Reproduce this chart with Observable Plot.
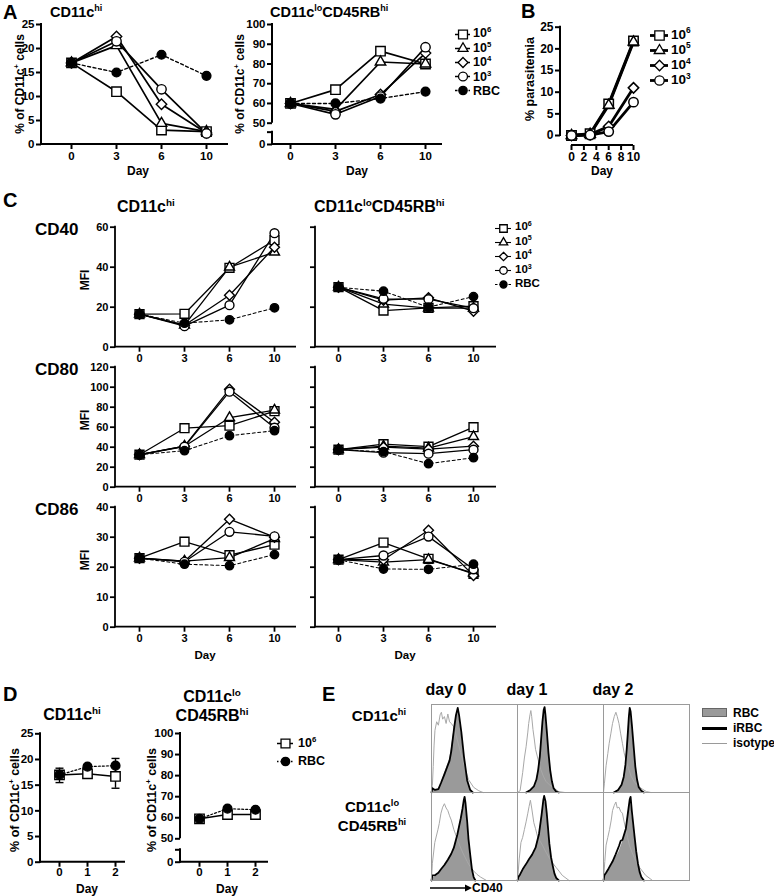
<!DOCTYPE html>
<html><head><meta charset="utf-8">
<script src="https://cdn.jsdelivr.net/npm/d3@7"></script>
<script src="https://cdn.jsdelivr.net/npm/@observablehq/plot@0.6"></script>
<style>
body{margin:0;background:#fff;}
#page{position:relative;width:774px;height:896px;overflow:hidden;font-family:"Liberation Sans",Arial,Helvetica,sans-serif;font-weight:bold;color:#000;background:#fff;}
#page > svg{position:absolute;left:0;top:0;}
.t{position:absolute;white-space:nowrap;line-height:1;}
.s{font-size:0.62em;position:relative;top:-0.62em;}
.c{text-align:center;line-height:1.25;}
</style></head><body><div id="page"></div>
<script>
// ---------------- DATA ----------------
const seriesKeys = ["1e6", "1e5", "1e4", "1e3", "RBC"];
const daysA = [0, 3, 6, 10];
const daysD = [0, 1, 2];
// Panel A (% of CD11c+ cells), rows follow seriesKeys
const pctHi = [[17, 11, 3.0, 2.7], [17, 20.6, 4.4, 2.7], [17, 22.5, 8.4, 2.4], [17, 21.5, 11.5, 2.3], [17, 15.0, 18.7, 14.3]];
const pctLo = [[60, 67, 86.5, 80], [60, 57, 81, 80], [60, 56, 64.5, 85.5], [60, 54.5, 63.5, 88.5], [60, 60, 62.5, 66]];
// Panel B (% parasitemia), 4 infected doses
const parasitemia = [[0, 0.4, 7.3, 21.8], [0, 0.3, 7.0, 21.6], [0, 0.2, 2.1, 11.0], [0, 0.1, 0.9, 7.7]];
const daysB = [0, 3, 6, 10];
// Panel C (MFI)
const cd40Hi = [[16.5, 16.7, 39.7, 53.5], [16.5, 11, 40, 47.5], [16.5, 11, 26, 50], [16.5, 10.5, 21, 57], [16.5, 12, 13.7, 19.7]];
const cd40Lo = [[30, 18.3, 19.7, 20.5], [30, 21.5, 19.5, 19.5], [30, 23.5, 24.7, 18], [30, 24.2, 24, 19.5], [30, 28, 20, 25.3]];
const cd80Hi = [[32.5, 59, 61.5, 76], [32.5, 41, 69.5, 77], [32.5, 41, 98, 65], [32.5, 40.5, 95.5, 59.5], [32.5, 36.5, 51.5, 56.5]];
const cd80Lo = [[37.5, 43, 40.5, 60], [37.5, 41, 39, 50.5], [37.5, 40, 38, 41], [37.5, 34.5, 33.5, 37.5], [37.5, 35.5, 23.5, 29.5]];
const cd86Hi = [[23, 28.5, 24, 27.5], [23, 22, 23.2, 29.5], [23, 22, 36, 30], [23, 21.8, 31.8, 30.3], [23, 21, 20.5, 24.2]];
const cd86Lo = [[22.5, 28.2, 22.8, 17.8], [22.5, 21.7, 22.5, 18], [22.5, 22.5, 32.3, 17.2], [22.5, 23.9, 30.2, 19.3], [22.5, 19.4, 19.3, 21]];
// Panel D (mean, lower, upper), rows: 10^6, RBC
const keysD = ["1e6", "RBC"];
const dHiMean = [[17, 17.2, 16.7], [17, 18.6, 18.8]];
const dHiLow = [[15.5, 16.6, 14.4], [16.2, 18.2, 17.5]];
const dHiHigh = [[18.3, 17.8, 18.9], [17.8, 19.0, 20.2]];
const dLoMean = [[59.5, 61.5, 61.5], [59.5, 64.3, 63.8]];
const dLoLow = [[58.6, 60.6, 60.5], [58.8, 63.6, 63.0]];
const dLoHigh = [[60.4, 62.4, 62.5], [60.2, 65.0, 64.6]];
// Panel E histograms: [channel, % of max]
const eDays = ["day 0", "day 1", "day 2"];
const ePops = ["hi", "lo"];
const isoHi0 = [[0,0],[1,8],[2,30],[3,55],[4,72],[6,82],[8,78],[10,90],[11.5,93],[13,85],[15,88],[17,80],[19,91],[21,82],[23,80],[26,76],[30,61],[34,46],[38,31],[43,15],[49,6],[55,2],[60,0]];
const rbcHi0 = [[0,0],[1,3],[5,2],[9,5],[11,10],[15,22],[18,30],[21,38],[23,50],[24.5,61],[26.5,75],[28.3,86],[30.2,94],[32,88],[34.7,69],[37.7,42],[41.5,15],[45,3],[48,0]];
const irbcHi0 = [[0,0],[1,5],[4,3],[8,4],[11,11],[15,21],[18,29],[21,37],[23,48],[24.5,60],[26.5,76],[28.5,90],[30.5,98],[32,90],[34.7,70],[37.7,42],[41.5,14],[45,3],[48,0]];
const isoHi1 = [[0,0],[3,2],[6,23],[8,40],[10,53],[12,70],[13,80],[14.5,90],[15.5,95],[16.5,88],[18,73],[19.5,62],[21,50],[24,38],[27,27],[30,19],[33,13],[37,9],[41,6],[48,1],[55,0]];
const rbcHi1 = [[10,0],[15,2],[19,6],[22,14],[24,24],[26,40],[27.5,58],[29,78],[30.5,92],[31.5,95],[32.5,88],[34,72],[36,48],[38,28],[40,14],[42,6],[45,2],[48,0]];
const irbcHi1 = [[10,0],[15,3],[19,7],[22,15],[24,26],[26,42],[27.5,62],[29,82],[30.5,96],[31.5,99],[32.5,90],[34,72],[36,46],[38,26],[40,13],[42,5],[45,1],[48,0]];
const isoHi2 = [[0,0],[1,10],[3,31],[5,45],[6.6,57],[8.5,68],[10.5,80],[12.5,88],[14.4,93],[16,88],[18,80],[20,68],[22,57],[24,46],[26,38],[29,28],[32,19],[36,12],[40,8],[45,4],[50,1],[55,0]];
const rbcHi2 = [[12,0],[17,3],[21,8],[23.5,16],[25.5,30],[27,48],[28.5,70],[29.5,85],[30.5,94],[31.5,92],[33,78],[35,55],[37,32],[39,16],[41,7],[44,2],[47,0]];
const irbcHi2 = [[12,0],[17,3],[21,9],[23.5,18],[25.5,32],[27,50],[28.5,72],[29.5,88],[30.5,98],[31.5,94],[33,78],[35,54],[37,30],[39,15],[41,6],[44,2],[47,0]];
const isoLo0 = [[0,0],[1,20],[3.8,44],[7.5,59],[9,66],[11,78],[13,85],[15,89],[17,84],[19,81],[21,75],[23,70],[26,59],[30,48],[33,40],[36,33],[41.5,22],[45,16],[49,11],[53,7],[57,4],[64,0]];
const rbcLo0 = [[0,0],[1,3],[4,4],[8,7],[11,11],[15,16],[19,22],[23,29],[26,37],[30,52],[34,70],[36,81],[37.5,90],[38.5,94],[39.5,89],[41.5,67],[43,48],[45,30],[47,14],[49,4],[51,0]];
const irbcLo0 = [[0,0],[1,6],[4,6],[8,9],[11,13],[15,18],[19,24],[23,31],[26,38],[30,53],[34,72],[36,83],[37.5,93],[38.5,97],[39.5,90],[41.5,68],[43,48],[45,30],[47,13],[49,4],[51,0]];
const isoLo1 = [[0,0],[2,25],[4,44],[6,50],[8,59],[10,68],[12,78],[13.5,86],[15,93],[16.5,84],[19,67],[21,60],[23,52],[26,46],[29,41],[33,33],[37,26],[41,20],[45,15],[49,10],[52,6],[60,0]];
const rbcLo1 = [[0,0],[1,3],[3,6],[6,11],[10,16],[13.5,22],[17,28],[21,37],[25,52],[28,74],[30,90],[31,94],[32.5,90],[34,78],[37,44],[39,28],[41,19],[43,9],[45,4],[48,0]];
const irbcLo1 = [[0,0],[1,4],[3,7],[6,13],[10,19],[13.5,25],[17,30],[21,38],[25,54],[28,76],[30,93],[31,98],[32.5,92],[34,78],[37,43],[39,27],[41,17],[43,8],[45,3],[48,0]];
const isoLo2 = [[0,0],[1.5,22],[3,41],[5,50],[7,59],[9,70],[10.5,81],[12.5,87],[14.4,91],[16,84],[18,85],[20,80],[22,78],[24,68],[26,59],[28,50],[30,41],[33,33],[36,26],[42,15],[49,6],[57,0]];
const rbcLo2 = [[0,0],[1,5],[3,7],[6,12],[10.5,19],[14,26],[18,33],[22,44],[26,59],[29,81],[30.5,90],[31.5,93],[33,78],[36,52],[38,36],[40,22],[42,12],[44,6],[47,0]];
const irbcLo2 = [[0,0],[1,6],[3,9],[6,14],[10.5,22],[14,30],[18,40],[20,46],[22,47],[26,60],[29,83],[30.5,94],[31.5,97],[33,80],[36,52],[38,34],[40,20],[42,10],[44,4],[47,0]];

// ---------------- HELPERS ----------------
const W = 774, H = 896;
const page = document.getElementById("page");
const FONT = '"Liberation Sans", Arial, Helvetica, sans-serif';
const sup = s => `<span class="s">${s}</span>`;
const LABEL = {"1e6": `10${sup(6)}`, "1e5": `10${sup(5)}`, "1e4": `10${sup(4)}`, "1e3": `10${sup(3)}`, "RBC": "RBC"};
const SYM = {"1e6": "square", "1e5": "triangle2", "1e4": "diamond2", "1e3": "circle", "RBC": "circle"};
const RAD = {"1e6": 5.3, "1e5": 5.0, "1e4": 4.7, "1e3": 4.7, "RBC": 4.4};
const capSymbol = {draw(ctx, size) { const h = Math.sqrt(size) * 0.5; ctx.moveTo(-h, 0); ctx.lineTo(h, 0); }};

function txt(html, x, y, size, anchor = "start", rotate = false, cls = "") {
  const d = document.createElement("div");
  d.className = "t " + cls;
  d.innerHTML = html;
  d.style.left = x + "px"; d.style.top = y + "px"; d.style.fontSize = size + "px";
  const tx = anchor === "start" ? "0" : anchor === "end" ? "-100%" : "-50%";
  d.style.transform = `translate(${tx}, -50%)` + (rotate ? " rotate(-90deg)" : "");
  page.appendChild(d);
}
const baseStyle = fs => ({background: "none", overflow: "visible", fontFamily: FONT, fontWeight: "bold", fontSize: fs + "px", color: "#000"});

function axisLines(xLine, ySegs, w) {
  return (index, scales, values, dims) => {
    const g = d3.create("svg:g").attr("stroke", "#000").attr("stroke-width", w).attr("fill", "none");
    const yb = dims.height - dims.marginBottom, xl = dims.marginLeft;
    const [xa, xb] = xLine ? xLine.map(v => scales.x(v)) : [dims.marginLeft - w / 2, dims.width - dims.marginRight];
    g.append("line").attr("x1", xa).attr("x2", xb).attr("y1", yb).attr("y2", yb);
    for (const [a, b] of ySegs) g.append("line").attr("x1", xl).attr("x2", xl).attr("y1", scales.y(a) + (a === 0 ? w / 2 : 0)).attr("y2", scales.y(b) - w / 2);
    return g.node();
  };
}

function panel(o) {
  const keys = o.keys || seriesKeys;
  const rows = keys.flatMap((s, i) => o.days.map((d, j) => ({series: s, day: d, value: o.values[i][j],
    lo: o.low ? o.low[i][j] : null, hi: o.high ? o.high[i][j] : null})));
  const solid = rows.filter(d => d.series !== "RBC");
  const rbc = rows.filter(d => d.series === "RBC");
  const aw = o.axisW || 2;
  const marks = [
    axisLines(o.xLine || null, o.ySegs, aw),
    Plot.axisY({ticks: o.yTicks, tickSize: 5, tickPadding: 2, strokeWidth: aw, label: null,
      tickFormat: o.noYLabels ? () => "" : (d => d === o.brk ? "" : d)}),
    Plot.axisX({ticks: o.xTicks || o.days, tickSize: 5, tickPadding: o.xPad ?? 2, strokeWidth: aw, label: null})
  ];
  if (o.low) {
    marks.push(Plot.ruleX(rows, {x: "day", y1: "lo", y2: "hi", stroke: "#000", strokeWidth: 1.4}));
    marks.push(Plot.dot(rows, {x: "day", y: "lo", symbol: capSymbol, r: 4.5, stroke: "#000", strokeWidth: 1.4}));
    marks.push(Plot.dot(rows, {x: "day", y: "hi", symbol: capSymbol, r: 4.5, stroke: "#000", strokeWidth: 1.4}));
  }
  marks.push(Plot.line(solid, {x: "day", y: "value", z: "series", stroke: "#000", strokeWidth: o.lw}));
  if (rbc.length) marks.push(Plot.line(rbc, {x: "day", y: "value", stroke: "#000", strokeWidth: o.lw * 0.8, strokeDasharray: o.dash || "3,2.5"}));
  for (const s of keys) marks.push(Plot.dot(rows.filter(d => d.series === s), {x: "day", y: "value", symbol: SYM[s], r: RAD[s] * (o.rk || 1),
    fill: s === "RBC" ? "#000" : "#fff", stroke: "#000", strokeWidth: o.sw || 1.4}));
  const svg = Plot.plot({
    width: W, height: H,
    marginLeft: o.l, marginRight: W - o.r, marginTop: o.t, marginBottom: H - o.b,
    style: baseStyle(o.fs),
    x: o.xType === "linear" ? {type: "linear", domain: o.xDomain, range: o.xRange} : {type: "point", domain: o.days, range: o.xRange, padding: 0},
    y: {type: "linear", domain: o.yDomain, range: o.yRange},
    marks
  });
  page.appendChild(svg);
}

function legend(o) {
  const keys = o.keys;
  const marks = [];
  for (const s of keys) {
    marks.push(Plot.ruleY([s], {y: d => d, x1: () => 0, x2: () => 1, stroke: "#000", strokeWidth: o.lw,
      ...(s === "RBC" ? {strokeDasharray: o.dash || "2.5,2"} : {})}));
    marks.push(Plot.dot([s], {x: () => 0.5, y: d => d, symbol: SYM[s], r: RAD[s] * (o.rk || 1),
      fill: s === "RBC" ? "#000" : "#fff", stroke: "#000", strokeWidth: 1.3}));
  }
  page.appendChild(Plot.plot({
    width: W, height: H, margin: 0, style: baseStyle(12),
    x: {domain: [0, 1], range: [o.x1, o.x2], axis: null},
    y: {type: "point", domain: keys, range: [o.y0, o.y1], padding: 0, axis: null},
    marks
  }));
  keys.forEach((s, i) => txt(LABEL[s], o.tx, o.y0 + i * (o.y1 - o.y0) / (keys.length - 1), o.fs));
}

// ---------------- PANEL A ----------------
txt("A", 3, 12, 20);
txt(`CD11c${sup("hi")}`, 50, 12, 14.5);
txt(`CD11c${sup("lo")}CD45RB${sup("hi")}`, 270, 12, 14.5);
panel({days: daysA, values: pctHi, l: 41, r: 228, t: 24, b: 144, xRange: [70, 207],
  yDomain: [0, 25], yRange: [144, 24], yTicks: [0, 5, 10, 15, 20, 25], ySegs: [[0, 25]], lw: 1.7, fs: 11.5});
panel({days: daysA, values: pctLo, l: 272, r: 442, t: 24, b: 144, xRange: [290, 425],
  yDomain: [0, 50, 100], yRange: [144, 122.7, 24], brk: 29, yTicks: [0, 29, 50, 60, 70, 80, 90, 100],
  ySegs: [[0, 29], [50, 100]], lw: 1.7, fs: 11.5});
txt(`% of CD11c${sup("+")} cells`, 20, 84, 12, "middle", true);
txt(`% of CD11c${sup("+")} cells`, 240, 84, 12, "middle", true);
txt("Day", 138, 171, 12, "middle");
txt("Day", 357, 171, 12, "middle");
legend({keys: seriesKeys, x1: 455, x2: 470, y0: 33, y1: 91, lw: 1.5, tx: 473, fs: 12.5, rk: 0.95});

// ---------------- PANEL B ----------------
txt("B", 521, 11, 20);
panel({keys: seriesKeys.slice(0, 4), days: daysB, values: parasitemia, l: 560, r: 640, t: 26.7, b: 145,
  xType: "linear", xDomain: [0, 10], xRange: [571, 633], xTicks: [0, 2, 4, 6, 8, 10], xLine: [0, 10],
  yDomain: [0, 25], yRange: [135, 26.7], yTicks: [0, 5, 10, 15, 20, 25], ySegs: [[0, 25]], lw: 2.8, sw: 1.5, fs: 12});
txt("% parasitemia", 530, 79, 12.5, "middle", true);
txt("Day", 602, 171, 12, "middle");
legend({keys: seriesKeys.slice(0, 4), x1: 650, x2: 668, y0: 34.5, y1: 80, lw: 2.8, tx: 671, fs: 13.5, rk: 1});

// ---------------- PANEL C ----------------
txt("C", 3, 200, 20);
txt(`CD11c${sup("hi")}`, 117, 207, 16);
txt(`CD11c${sup("lo")}CD45RB${sup("hi")}`, 314, 207, 16);
const cRows = [
  {name: "CD40", hi: cd40Hi, lo: cd40Lo, t: 226.7, b: 346.7, max: 60, ticks: [0, 20, 40, 60]},
  {name: "CD80", hi: cd80Hi, lo: cd80Lo, t: 366.7, b: 486.7, max: 120, ticks: [0, 20, 40, 60, 80, 100, 120]},
  {name: "CD86", hi: cd86Hi, lo: cd86Lo, t: 506.7, b: 626.7, max: 40, ticks: [0, 10, 20, 30, 40]}
];
for (const row of cRows) {
  panel({days: daysA, values: row.hi, l: 115, r: 296, t: row.t, b: row.b, xRange: [138, 275],
    yDomain: [0, row.max], yRange: [row.b, row.t], yTicks: row.ticks, ySegs: [[0, row.max]], lw: 1.3, fs: 11, axisW: 1.8, rk: 0.95});
  panel({days: daysA, values: row.lo, l: 315, r: 496, t: row.t, b: row.b, xRange: [337.7, 473.3], noYLabels: true,
    yDomain: [0, row.max], yRange: [row.b, row.t], yTicks: row.ticks, ySegs: [[0, row.max]], lw: 1.3, fs: 11, axisW: 1.8, rk: 0.95});
  txt(row.name, 35, row.t + 2.5, 17);
  txt("MFI", 85, (row.t + row.b) / 2 - 7, 12, "middle", true);
}
txt("Day", 205, 656, 11.5, "middle");
txt("Day", 405, 656, 11.5, "middle");
legend({keys: seriesKeys, x1: 495, x2: 511, y0: 227.3, y1: 284.3, lw: 1.1, tx: 515, fs: 11.5, rk: 0.8});

// ---------------- PANEL D ----------------
txt("D", 3, 694, 20);
txt(`CD11c${sup("hi")}`, 72, 715, 16, "middle");
txt(`CD11c${sup("lo")}`, 212, 697, 16, "middle");
txt(`CD45RB${sup("hi")}`, 212, 716, 16, "middle");
panel({keys: keysD, days: daysD, values: dHiMean, low: dHiLow, high: dHiHigh, l: 40, r: 125, t: 733.3, b: 861.7, xRange: [58.3, 115],
  yDomain: [0, 25], yRange: [861.7, 733.3], yTicks: [0, 5, 10, 15, 20, 25], ySegs: [[0, 25]], lw: 1.5, fs: 11.5, xPad: 1, dash: "2,2"});
panel({keys: keysD, days: daysD, values: dLoMean, low: dLoLow, high: dLoHigh, l: 180, r: 268, t: 733, b: 861.7, xRange: [198, 255],
  yDomain: [0, 50, 100], yRange: [861.7, 838.3, 733], brk: 26.5, yTicks: [0, 26.5, 50, 60, 70, 80, 90, 100],
  ySegs: [[0, 26.5], [50, 100]], lw: 1.5, fs: 11.5, xPad: 1, dash: "2,2"});
txt(`% of CD11c${sup("+")} cells`, 15, 800, 12.5, "middle", true);
txt(`% of CD11c${sup("+")} cells`, 152, 800, 12.5, "middle", true);
txt("Day", 87, 888.5, 12, "middle");
txt("Day", 227, 888.5, 12, "middle");
legend({keys: keysD, x1: 277, x2: 293, y0: 743, y1: 761, lw: 1.5, tx: 298, fs: 12.5, rk: 0.95, dash: "1.5,2"});

// ---------------- PANEL E ----------------
txt("E", 322, 694, 20);
const eCurves = [
  ["day 0", "hi", "iso", isoHi0], ["day 0", "hi", "rbc", rbcHi0], ["day 0", "hi", "irbc", irbcHi0],
  ["day 1", "hi", "iso", isoHi1], ["day 1", "hi", "rbc", rbcHi1], ["day 1", "hi", "irbc", irbcHi1],
  ["day 2", "hi", "iso", isoHi2], ["day 2", "hi", "rbc", rbcHi2], ["day 2", "hi", "irbc", irbcHi2],
  ["day 0", "lo", "iso", isoLo0], ["day 0", "lo", "rbc", rbcLo0], ["day 0", "lo", "irbc", irbcLo0],
  ["day 1", "lo", "iso", isoLo1], ["day 1", "lo", "rbc", rbcLo1], ["day 1", "lo", "irbc", irbcLo1],
  ["day 2", "lo", "iso", isoLo2], ["day 2", "lo", "rbc", rbcLo2], ["day 2", "lo", "irbc", irbcLo2]
];
const eRows = eCurves.flatMap(([day, pop, kind, pts]) => pts.map(([ch, h]) => ({day, pop, kind, ch, h})));
const ofKind = k => eRows.filter(d => d.kind === k);
page.appendChild(Plot.plot({
  width: W, height: H, marginLeft: 430, marginRight: W - 690, marginTop: 703, marginBottom: H - 880,
  style: baseStyle(12),
  fx: {domain: eDays, padding: 0, axis: null},
  fy: {domain: ePops, padding: 0, axis: null},
  x: {domain: [0, 100], axis: null},
  y: {domain: [0, 102], axis: null},
  marks: [
    Plot.areaY(ofKind("rbc"), {x: "ch", y: "h", fx: "day", fy: "pop", fill: "#9a9a9a"}),
    Plot.line(ofKind("iso"), {x: "ch", y: "h", fx: "day", fy: "pop", stroke: "#a8a8a8", strokeWidth: 1}),
    Plot.line(ofKind("irbc"), {x: "ch", y: "h", fx: "day", fy: "pop", stroke: "#000", strokeWidth: 1.8}),
    Plot.frame({stroke: "#9a9a9a", strokeWidth: 1})
  ]
}));
const eHeaderX = [446, 527, 613];
eDays.forEach((d, i) => txt(d, eHeaderX[i], 690, 16, "middle"));
txt(`CD11c${sup("hi")}`, 406, 716, 15, "end");
txt(`CD11c${sup("lo")}<br>CD45RB${sup("hi")}`, 372, 817, 15, "middle", false, "c");
// E legend swatches
(function () {
  const add = (css) => { const d = document.createElement("div"); d.style.cssText = "position:absolute;" + css; page.appendChild(d); };
  add("left:702px;top:708px;width:25px;height:9px;background:#9a9a9a;border:1px solid #666;box-sizing:border-box;");
  add("left:702px;top:727px;width:25px;height:2.5px;background:#000;");
  add("left:702px;top:742.5px;width:25px;height:1px;background:#9a9a9a;");
  txt("RBC", 733, 713, 12);
  txt("iRBC", 733, 728, 12);
  txt("isotype", 733, 743, 12);
  const ns = "http://www.w3.org/2000/svg";
  const s = document.createElementNS(ns, "svg");
  s.setAttribute("width", 44); s.setAttribute("height", 12);
  s.style.cssText = "position:absolute;left:430px;top:882px;";
  s.innerHTML = '<line x1="0" y1="6" x2="36" y2="6" stroke="#000" stroke-width="1.5"/><path d="M35,2.5 L42,6 L35,9.5 Z" fill="#000"/>';
  page.appendChild(s);
  txt("CD40", 472, 888, 12);
})();
</script></body></html>
